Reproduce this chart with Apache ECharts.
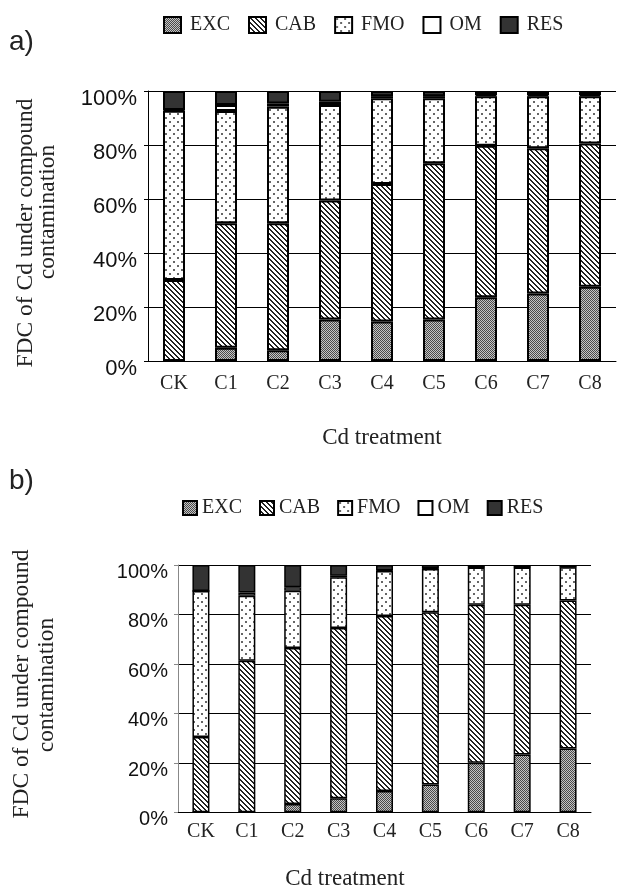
<!DOCTYPE html>
<html><head><meta charset="utf-8">
<script src="https://cdn.jsdelivr.net/npm/echarts@6/dist/echarts.min.js"></script>
<style>html,body{margin:0;padding:0;background:#fff}#c{width:617px;height:888px}</style>
</head><body><div id="c"></div>
<script>
// ---- data ----
const categories = ['CK','C1','C2','C3','C4','C5','C6','C7','C8'];
const fractionNames = ['EXC','CAB','FMO','OM','RES'];
const yTickLabels = ['0%','20%','40%','60%','80%','100%'];
// panel a) percentages
const excA = [0, 4.9, 4.0, 15.4, 14.6, 15.4, 23.6, 25.0, 27.5];
const cabA = [30.0, 46.1, 47.0, 44.0, 51.0, 57.8, 56.1, 53.8, 53.1];
const fmoA = [62.7, 41.6, 43.2, 35.4, 31.7, 24.1, 18.4, 19.3, 17.5];
const omA  = [0.3, 2.2, 1.2, 1.2, 0.8, 0.8, 0.4, 0.4, 0.4];
const resA = [7.0, 5.2, 4.6, 4.0, 1.9, 1.9, 1.5, 1.5, 1.5];
// panel b) percentages
const excB = [0, 0, 3.4, 5.7, 8.6, 11.2, 20.0, 23.4, 25.8];
const cabB = [30.4, 61.3, 63.0, 68.8, 70.8, 69.7, 63.9, 60.5, 59.8];
const fmoB = [59.1, 26.3, 23.2, 20.5, 18.2, 17.5, 15.1, 15.1, 13.5];
const omB  = [0, 1.3, 1.4, 0.7, 0.2, 0.2, 0.1, 0.1, 0.1];
const resB = [10.5, 11.1, 9.0, 4.3, 2.2, 1.4, 0.9, 0.9, 0.8];

// ---- patterns ----
function makePattern(w, h, draw) {
  const c = document.createElement('canvas');
  c.width = w; c.height = h;
  const ctx = c.getContext('2d');
  draw(ctx, w, h);
  return { image: c, repeat: 'repeat' };
}
const patEXC = makePattern(2, 2, (ctx) => {
  ctx.fillStyle = '#c4c4c4'; ctx.fillRect(0, 0, 2, 2);
  ctx.fillStyle = '#4a4a4a'; ctx.fillRect(0, 0, 1, 1); ctx.fillRect(1, 1, 1, 1);
});
const patCAB = makePattern(5, 5, (ctx) => {
  ctx.fillStyle = '#fff'; ctx.fillRect(0, 0, 5, 5);
  ctx.fillStyle = '#222';
  for (let x = 0; x < 5; x++) for (let y = 0; y < 5; y++) {
    if (((x - y) % 5 + 5) % 5 < 2) ctx.fillRect(x, y, 1, 1);
  }
});
const patFMO = makePattern(8, 8, (ctx) => {
  ctx.fillStyle = '#fff'; ctx.fillRect(0, 0, 8, 8);
  ctx.fillStyle = '#666';
  ctx.fillRect(1, 1, 2, 2); ctx.fillRect(5, 5, 2, 2);
});
const fills = { EXC: patEXC, CAB: patCAB, FMO: patFMO, OM: '#ffffff', RES: '#333333' };

const valuesA = { EXC: excA, CAB: cabA, FMO: fmoA, OM: omA, RES: resA };
const valuesB = { EXC: excB, CAB: cabB, FMO: fmoB, OM: omB, RES: resB };

function buildSeries(vals, idx, barWidth, bw) {
  return fractionNames.map(n => ({
    name: n, type: 'bar', stack: 's' + idx,
    xAxisIndex: idx, yAxisIndex: idx,
    barWidth: barWidth,
    data: vals[n],
    itemStyle: { color: fills[n], borderColor: '#000', borderWidth: bw },
    emphasis: { disabled: true },
    animation: false
  }));
}

const serif = '"Liberation Serif", "Times New Roman", serif';
const sans = '"Liberation Sans", Arial, sans-serif';

function xAxisCfg(idx, margin) {
  return {
    type: 'category', gridIndex: idx, data: categories,
    axisLine: { lineStyle: { color: '#000', width: 1 } },
    axisTick: { inside: true, length: 5, interval: 0, lineStyle: { color: '#000' } },
    axisLabel: { fontFamily: serif, fontSize: 20, color: '#222', margin: margin, interval: 0 }
  };
}
function yAxisCfg(idx, fontSize, margin, axisColor) {
  return {
    type: 'value', gridIndex: idx, min: 0, max: 100, interval: 20,
    axisLine: { show: true, lineStyle: { color: axisColor, width: 1 } },
    axisTick: { show: true, length: 4, lineStyle: { color: axisColor } },
    splitLine: { show: true, lineStyle: { color: '#000', width: 1 } },
    axisLabel: {
      formatter: v => yTickLabels[Math.round(v / 20)],
      fontFamily: sans, fontSize: fontSize, color: '#111', margin: margin,
      verticalAlign: 'top', lineHeight: 15
    }
  };
}

const chart = echarts.init(document.getElementById('c'), null, { renderer: 'canvas' });
chart.setOption({
  animation: false,
  backgroundColor: '#fff',
  grid: [
    { left: 148, right: 1, top: 91, height: 270 },
    { left: 178, right: 26, top: 565, height: 247.3 }
  ],
  legend: [
    { data: fractionNames, selectedMode: false, left: 158, top: 10, icon: 'rect',
      itemWidth: 17, itemHeight: 16, itemGap: 18,
      textStyle: { fontFamily: serif, fontSize: 20, color: '#222', padding: [0, 0, 0, 4] } },
    { data: fractionNames, selectedMode: false, left: 177, top: 493, icon: 'rect',
      itemWidth: 14, itemHeight: 14, itemGap: 17,
      textStyle: { fontFamily: serif, fontSize: 20, color: '#222' } }
  ],
  xAxis: [xAxisCfg(0, 13), xAxisCfg(1, 9)],
  yAxis: [yAxisCfg(0, 22, 11, '#000'), yAxisCfg(1, 20, 10, '#888')],
  series: buildSeries(valuesA, 0, 22, 2).concat(buildSeries(valuesB, 1, 17, 1.5)),
  graphic: [
    { type: 'text', left: 9, top: 28, style: { text: 'a)', font: '28px ' + sans, fill: '#222' } },
    { type: 'text', left: 9, top: 467, style: { text: 'b)', font: '28px ' + sans, fill: '#222' } },
    { type: 'text', x: 26, y: 233, rotation: Math.PI / 2,
      style: { text: 'FDC of Cd under compound', font: '23.5px ' + serif, fill: '#222', align: 'center', verticalAlign: 'middle', textAlign: 'center', textVerticalAlign: 'middle' } },
    { type: 'text', x: 48, y: 212, rotation: Math.PI / 2,
      style: { text: 'contamination', font: '23.5px ' + serif, fill: '#222', align: 'center', verticalAlign: 'middle', textAlign: 'center', textVerticalAlign: 'middle' } },
    { type: 'text', x: 22, y: 684, rotation: Math.PI / 2,
      style: { text: 'FDC of Cd under compound', font: '23.5px ' + serif, fill: '#222', align: 'center', verticalAlign: 'middle', textAlign: 'center', textVerticalAlign: 'middle' } },
    { type: 'text', x: 47, y: 685, rotation: Math.PI / 2,
      style: { text: 'contamination', font: '23.5px ' + serif, fill: '#222', align: 'center', verticalAlign: 'middle', textAlign: 'center', textVerticalAlign: 'middle' } },
    { type: 'text', x: 382, y: 438,
      style: { text: 'Cd treatment', font: '23px ' + serif, fill: '#222', align: 'center', verticalAlign: 'middle', textAlign: 'center', textVerticalAlign: 'middle' } },
    { type: 'text', x: 345, y: 879,
      style: { text: 'Cd treatment', font: '23px ' + serif, fill: '#222', align: 'center', verticalAlign: 'middle', textAlign: 'center', textVerticalAlign: 'middle' } }
  ]
});
</script></body></html>
